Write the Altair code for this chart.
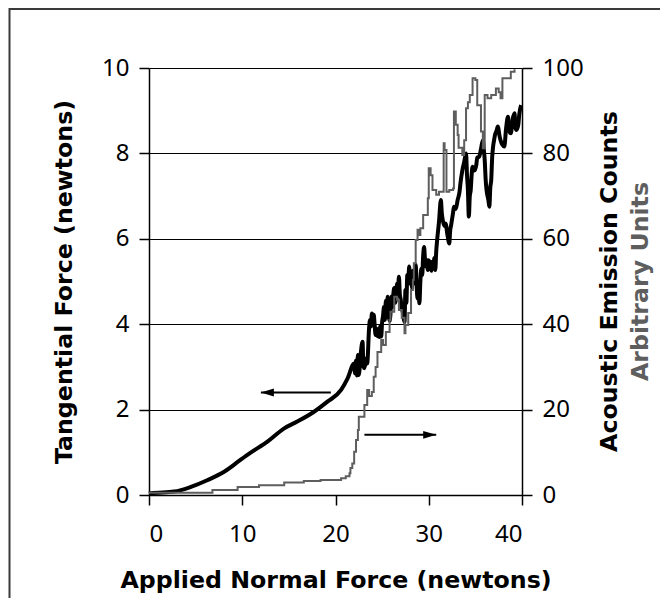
import altair as alt
import pandas as pd

# Tangential force (left axis, newtons) vs applied normal force
tan_N = [0.0, 0.2, 2.7, 4.5, 6.3, 8.1, 9.8, 10.9, 12.7, 14.5, 15.9, 17.7, 19.1, 20.6, 21.3,
         22.0, 22.1, 22.2, 22.3, 22.4, 22.5, 22.7, 22.9, 23.0, 23.1, 23.3, 23.4,
         23.6, 23.7, 23.8, 23.9, 24.0, 24.1, 24.2, 24.3, 24.4, 24.5, 24.6, 24.7, 24.8, 24.9,
         25.0, 25.1, 25.2, 25.3, 25.4, 25.5, 25.6, 25.7, 25.8, 25.9, 26.0, 26.1, 26.2, 26.3,
         26.4, 26.5, 26.6, 26.7, 26.8, 26.9, 27.0, 27.1, 27.2, 27.3, 27.4, 27.5, 27.6, 27.7,
         27.8, 27.9, 28.0, 28.1, 28.2, 28.3, 28.4, 28.5, 28.6, 28.7, 28.8, 28.9, 29.0, 29.1,
         29.2, 29.3, 29.4, 29.5, 29.6, 29.7, 29.8, 29.9, 30.0, 30.1, 30.2, 30.3, 30.4, 30.5,
         30.6, 30.7, 30.8, 30.9,
         31.1, 31.3, 31.4, 31.5, 31.7, 31.8, 32.0, 32.2, 32.3, 32.4, 32.6, 32.7, 32.9, 33.1,
         33.3, 33.4, 33.6, 33.8, 34.0, 34.1, 34.2, 34.3, 34.4, 34.5, 34.6, 34.7, 34.9, 35.1,
         35.2, 35.4, 35.6, 35.8, 35.9, 36.0, 36.1, 36.2, 36.4, 36.5, 36.6, 36.7, 36.8, 36.9,
         37.0, 37.1, 37.3, 37.4, 37.6, 37.7, 37.9, 38.1, 38.3, 38.5, 38.6, 38.8, 39.0, 39.2,
         39.3, 39.4, 39.6, 39.7, 39.9]
tan_T = [0.03, 0.04, 0.08, 0.19, 0.35, 0.55, 0.82, 0.99, 1.25, 1.56, 1.72, 1.95, 2.18, 2.46, 2.73,
         3.08, 2.85, 3.15, 2.80, 3.28, 2.81, 3.30, 3.59, 3.00, 2.97, 3.20, 3.08,
         3.90, 4.10, 3.95, 4.25, 4.00, 4.22, 3.98, 3.75, 3.90, 3.72, 3.86, 3.70, 3.95, 3.71,
         4.05, 4.20, 4.40, 4.10, 4.55, 4.35, 4.64, 4.20, 4.08, 4.25, 4.65, 4.40, 4.70, 4.85,
         4.50, 4.60, 4.95, 4.75, 5.11, 4.70, 4.57, 4.35, 4.30, 4.15, 4.05, 4.80, 4.50, 5.15,
         4.95, 5.35, 4.95, 5.05, 4.85, 5.25, 4.96, 5.20, 5.40, 4.90, 4.60, 4.75, 4.49, 5.00,
         5.30, 5.15, 5.60, 5.81, 5.50, 5.35, 5.50, 5.27, 5.50, 5.30, 5.46, 5.25, 5.45, 5.30,
         5.55, 5.27, 5.70, 5.97,
         6.40, 6.91, 6.60, 6.44, 6.30, 6.36, 6.10, 5.89, 6.20, 6.32, 6.60, 6.75, 6.70, 6.91,
         7.10, 7.30, 7.60, 7.80, 8.00, 7.50, 7.14, 6.52, 7.00, 7.14, 7.50, 7.69, 7.60, 7.73,
         7.90, 7.92, 8.10, 8.31, 8.10, 7.85, 7.40, 7.14, 6.90, 6.75, 7.20, 7.38, 7.90, 8.16,
         8.30, 8.43, 8.55, 8.63, 8.40, 8.31, 8.20, 8.16, 8.60, 8.86, 8.55, 8.47, 8.80, 8.94,
         8.60, 8.55, 8.67, 8.90, 9.13]

# Acoustic emission counts (right axis, arbitrary units)
ae_N = [0.0, 6.8, 9.5, 11.8, 14.5, 16.6, 18.4, 20.6, 21.1, 21.5, 21.6, 21.8, 22.0, 22.2, 22.4,
        22.5, 23.1, 23.4, 23.6, 23.9, 24.1, 24.3, 24.5, 24.9, 25.1, 25.4, 25.8, 25.9, 26.3,
        26.6, 26.8, 27.1, 27.4, 27.5, 27.8, 28.1, 28.3, 28.4, 28.6, 28.8, 28.9, 29.1, 29.4,
        29.9, 30.0, 30.2, 30.4, 30.8, 31.1, 31.5, 31.6, 31.7, 31.9, 32.2, 32.6, 32.7, 32.9,
        33.1, 33.2, 33.6, 33.8, 34.0, 34.2, 34.4, 34.7, 35.0, 35.2, 35.6, 35.8, 36.0, 36.3,
        36.7, 37.2, 37.5, 37.7, 37.9, 38.3, 38.8, 39.2, 39.3]
ae_A = [0.5, 1.2, 1.9, 2.3, 2.9, 3.3, 3.5, 3.9, 4.4, 5.1, 6.3, 7.4, 10.1, 12.9, 15.2,
        18.3, 21.1, 24.6, 23.2, 24.1, 27.7, 30.0, 33.5, 36.3, 35.1, 38.2, 41.0, 42.9, 46.4,
        45.7, 43.3, 41.5, 37.9, 39.8, 42.6, 48.0, 50.4, 54.3, 59.7, 62.1, 60.9, 62.5, 65.6,
        69.5, 76.5, 74.9, 71.4, 70.3, 71.0, 71.0, 82.4, 80.8, 71.0, 71.4, 71.8, 89.8, 86.7,
        84.3, 81.3, 79.6, 83.1, 90.6, 92.0, 93.7, 97.6, 97.2, 91.3, 85.1, 81.2, 93.7, 92.9,
        93.7, 95.2, 94.3, 92.9, 97.6, 97.6, 99.1, 99.5, 99.5]

# Arrows pointing to the axis each curve belongs to
arrow_from = [19.5, 23.1]
arrow_to = [12.0, 30.8]
arrow_level = [2.40, 1.41]
arrow_dir = ["left", "right"]

W, H = 373, 427
TITLE_FONT = "DejaVu Sans"
LABEL_FONT = "Noto Sans"

tan_df = pd.DataFrame({"N": tan_N, "T": tan_T})
ae_df = pd.DataFrame({"N": ae_N, "A": ae_A})
arr_df = pd.DataFrame({"x1": arrow_from, "x2": arrow_to, "T": arrow_level, "dir": arrow_dir})

xscale = alt.Scale(domain=[0, 40], nice=False, zero=False)
tscale = alt.Scale(domain=[0, 10], nice=False)
ascale = alt.Scale(domain=[0, 100], nice=False)

x_axis = alt.Axis(values=[0, 10, 20, 30, 40], title="Applied Normal Force (newtons)",
                  grid=False, labelPadding=17, titlePadding=22)
left_axis = alt.Axis(values=[0, 2, 4, 6, 8, 10], title="Tangential Force (newtons)",
                     orient="left", grid=True, gridColor="black", gridWidth=1, gridOpacity=1,
                     labelPadding=10, titlePadding=25)
right_axis = alt.Axis(values=[0, 20, 40, 60, 80, 100], title=None, orient="right",
                      grid=False, labelPadding=10)

tan_line = alt.Chart(tan_df).mark_line(color="black", strokeWidth=4,
                                       interpolate="monotone").encode(
    x=alt.X("N:Q", scale=xscale, axis=x_axis),
    y=alt.Y("T:Q", scale=tscale, axis=left_axis),
)

arrow_rules = alt.Chart(arr_df).mark_rule(color="black", strokeWidth=2).encode(
    x=alt.X("x1:Q", scale=xscale, axis=x_axis),
    x2="x2:Q",
    y=alt.Y("T:Q", scale=tscale, axis=left_axis),
)

path_left = "M0,0L2,-0.6L2,0.6Z"
path_right = "M0,0L-2,-0.6L-2,0.6Z"
arrow_heads = alt.Chart(arr_df).mark_point(filled=True, color="black", opacity=1, size=169,
                                           strokeWidth=0).encode(
    x=alt.X("x2:Q", scale=xscale, axis=x_axis),
    y=alt.Y("T:Q", scale=tscale, axis=left_axis),
    shape=alt.Shape("dir:N", scale=alt.Scale(domain=["left", "right"],
                                             range=[path_left, path_right]), legend=None),
)

left_group = alt.layer(tan_line, arrow_rules, arrow_heads)

ae_line = alt.Chart(ae_df).mark_line(color="#5e5e5e", strokeWidth=2,
                                     interpolate="step-after").encode(
    x=alt.X("N:Q", scale=xscale, axis=x_axis),
    y=alt.Y("A:Q", scale=ascale, axis=right_axis),
)

titles_df = pd.DataFrame({"t": ["Acoustic Emission Counts", "Arbitrary Units"]})
right_title1 = alt.Chart(titles_df).transform_filter(
    alt.datum.t == "Acoustic Emission Counts").mark_text(
    angle=270, font=TITLE_FONT, fontWeight="bold", fontSize=23.7, color="black",
    baseline="middle", align="center").encode(
    text="t:N", x=alt.value(W + 88), y=alt.value(H / 2))
right_title2 = alt.Chart(titles_df).transform_filter(
    alt.datum.t == "Arbitrary Units").mark_text(
    angle=270, font=TITLE_FONT, fontWeight="bold", fontSize=23.7, color="#5e5e5e",
    baseline="middle", align="center").encode(
    text="t:N", x=alt.value(W + 119), y=alt.value(H / 2))

frame = alt.Chart(pd.DataFrame({"f": [0]})).mark_rect(
    fillOpacity=0, stroke="#3a3a3a", strokeWidth=2).encode(
    x=alt.value(-139.5), x2=alt.value(700), y=alt.value(-59), y2=alt.value(700))

chart = alt.layer(frame, left_group, ae_line, right_title1, right_title2).resolve_scale(
    y="independent"
).properties(
    width=W, height=H,
    padding={"left": 141, "top": 60, "right": 138, "bottom": 103},
    autosize=alt.AutoSizeParams(type="none"),
).configure_view(strokeWidth=0).configure_axis(
    labelFont=LABEL_FONT, labelFontSize=24, labelColor="black",
    titleFont=TITLE_FONT, titleFontSize=23.7, titleFontWeight="bold", titleColor="black",
    domainColor="black", domainWidth=1.5, tickColor="black", tickWidth=1.5, tickSize=10,
)

chart.save("out.html", embed_options={"renderer": "svg", "actions": False})
